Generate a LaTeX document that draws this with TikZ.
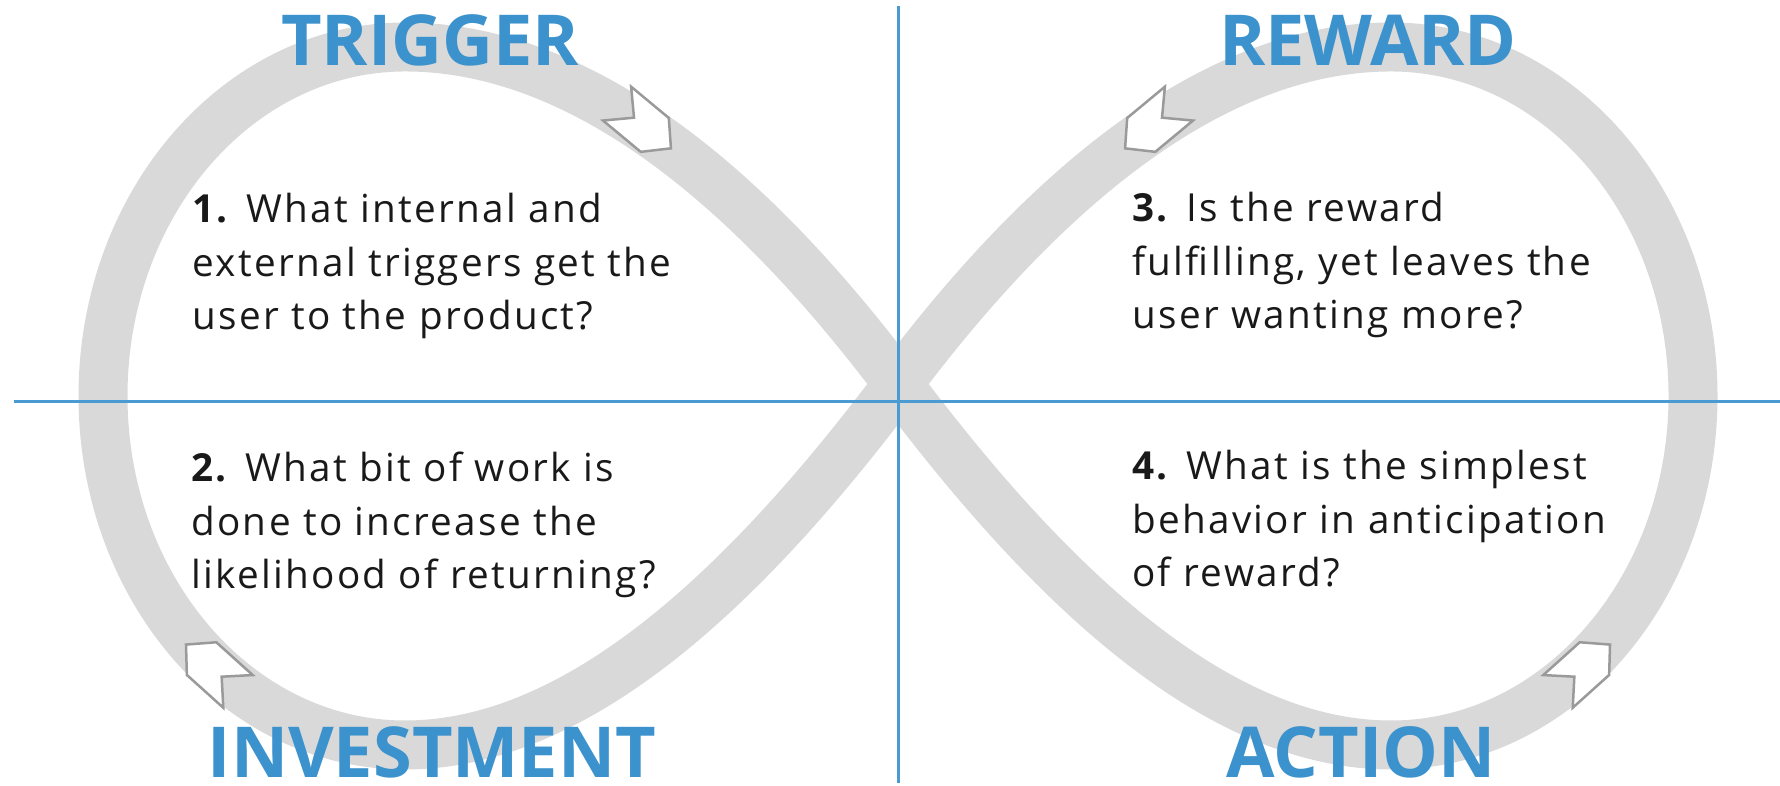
\documentclass[tikz,border=0pt]{standalone}
\usepackage{fontspec}
\setmainfont{Open Sans}
\newfontfamily\questionfont[LetterSpace=6]{Open Sans}
\definecolor{loopgray}{HTML}{D9D9D9}
\definecolor{axisblue}{HTML}{4A9BD1}
\definecolor{headblue}{HTML}{3C92CC}
\definecolor{tipgray}{HTML}{9A9A9A}
\tikzset{pics/chevron/.style={code={\draw[flowarrow] (-35,22) -- (14,22) -- (35,0) -- (14,-22) -- (-35,-22) -- (-13,0) -- cycle;}}}

\begin{document}
\begin{tikzpicture}[x=0.02cm, y=0.02cm,
		band/.style={draw=loopgray, line width=0.98cm, line join=round},
		axis/.style={draw=axisblue, line width=0.06cm},
		flowarrow/.style={draw=tipgray, fill=white, line width=0.05cm, line join=miter},
		heading/.style={text=headblue, font=\bfseries\fontsize{40}{48}\selectfont, anchor=base, inner sep=0pt},
		question/.style={text=black!90, font=\questionfont\fontsize{22}{30.7}\selectfont, align=left, anchor=base west, inner sep=0pt}]
			%%%%% START %%%%%
			\useasboundingbox (0,0) rectangle (1780,786);
			
			\draw[band] (405,739) arc[start angle=90, end angle=270, x radius=302, y radius=349]
				.. controls (580,41) and (748,202) .. (898,402)
				.. controls (1048,602) and (1216,739) .. (1391,739)
				arc[start angle=90, end angle=-90, x radius=302, y radius=349]
				.. controls (1216,41) and (1048,202) .. (898,402)
				.. controls (748,602) and (580,739) .. cycle;
			
			\pic[rotate=-39.7] at (644,660) {chevron};
			\pic[rotate=219.7] at (1152,660) {chevron};
			\pic[rotate=138] at (212,118) {chevron};
			\pic[rotate=42] at (1584,118) {chevron};
			
			\coordinate (vtop) at (898,780);
			\coordinate (vbot) at (898,3);
			\coordinate (hleft) at (14,384);
			\coordinate (hright) at (1780,384);
			\draw[axis] (vtop) -- (vbot);
			\draw[axis] (hleft) -- (hright);
			
			\node[heading] (trigger) at (430,720) {TRIGGER};
			\node[heading] (reward) at (1368,720) {REWARD};
			\node[heading] (investment) at (432,8) {INVESTMENT};
			\node[heading] (action) at (1361,8) {ACTION};
			
			% base of a question node = its last line
			\node[question] (q1) at (192,456) {\textbf{1.} What internal and\\external triggers get the\\user to the product?};
			\node[question] (q2) at (191,197) {\textbf{2.} What bit of work is\\done to increase the\\likelihood of returning?};
			\node[question] (q3) at (1132,457) {\textbf{3.} Is the reward\\fulfilling, yet leaves the\\user wanting more?};
			\node[question] (q4) at (1132,199) {\textbf{4.} What is the simplest\\behavior in anticipation\\of reward?};
			
			%%%%% END %%%%%
		\end{tikzpicture}
\end{document}
